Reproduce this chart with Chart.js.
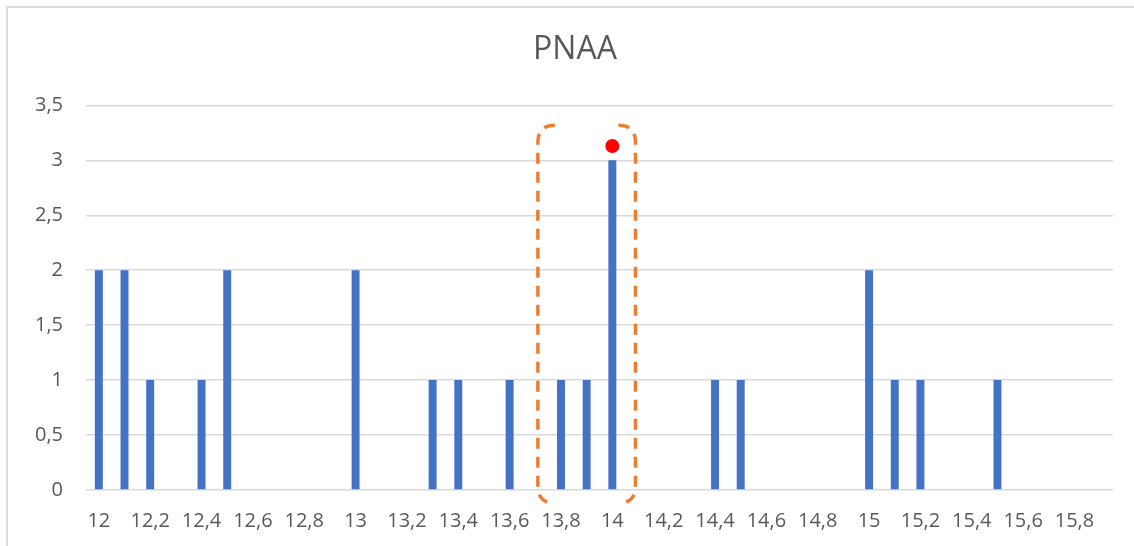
<!DOCTYPE html>
<html>
<head>
<meta charset="utf-8">
<script src="https://cdn.jsdelivr.net/npm/chart.js@4/dist/chart.umd.min.js"></script>
<style>
  html, body { margin: 0; padding: 0; background: #fff; }
  #wrap { position: relative; width: 1134px; height: 546px; overflow: hidden; }
  #frame { position: absolute; left: 6px; top: 6px; width: 1200px; height: 600px;
           border-left: 2px solid #dcdcdc; border-top: 2px solid #dcdcdc; }
  canvas { position: absolute; left: 0; top: 0; }
</style>
</head>
<body>
<div id="wrap">
  <div id="frame"></div>
  <canvas id="chart" width="1134" height="546"></canvas>
</div>
<script>
const categories = [
  "12", "12,1", "12,2", "12,3", "12,4", "12,5", "12,6", "12,7", "12,8", "12,9",
  "13", "13,1", "13,2", "13,3", "13,4", "13,5", "13,6", "13,7", "13,8", "13,9",
  "14", "14,1", "14,2", "14,3", "14,4", "14,5", "14,6", "14,7", "14,8", "14,9",
  "15", "15,1", "15,2", "15,3", "15,4", "15,5", "15,6", "15,7", "15,8", "15,9"
];
const counts = [
  2, 2, 1, 0, 1, 2, 0, 0, 0, 0,
  2, 0, 0, 1, 1, 0, 1, 0, 1, 1,
  3, 0, 0, 0, 1, 1, 0, 0, 0, 0,
  2, 1, 1, 0, 0, 1, 0, 0, 0, 0
];
const yTicks = [0, 0.5, 1, 1.5, 2, 2.5, 3, 3.5];

// highlight marker (red dot) and dashed bracket, in data units
const markerCategory = "14";
const markerValue = 3.13;
const bracketX = [17.1, 20.9];     // category index span
const bracketY = [-0.12, 3.32];    // value span

const markerData = categories.map(c => (c === markerCategory ? markerValue : null));

const bracketPlugin = {
  id: "bracket",
  afterDatasetsDraw(chart) {
    const { ctx, scales: { x, y } } = chart;
    const xl = x.getPixelForValue(bracketX[0]);
    const xr = x.getPixelForValue(bracketX[1]);
    const yt = y.getPixelForValue(bracketY[1]);
    const yb = y.getPixelForValue(bracketY[0]);
    const r = 17;
    ctx.save();
    ctx.strokeStyle = "#ED7D31";
    ctx.lineWidth = 3.5;
    ctx.setLineDash([11, 8]);
    ctx.beginPath();
    ctx.moveTo(xl + r, yt);
    ctx.quadraticCurveTo(xl, yt, xl, yt + r);
    ctx.lineTo(xl, yb - r);
    ctx.quadraticCurveTo(xl, yb, xl + r, yb);
    ctx.stroke();
    ctx.beginPath();
    ctx.moveTo(xr - r, yt);
    ctx.quadraticCurveTo(xr, yt, xr, yt + r);
    ctx.lineTo(xr, yb - r);
    ctx.quadraticCurveTo(xr, yb, xr - r, yb);
    ctx.stroke();
    ctx.restore();
  }
};

const fmt = v => String(v).replace(".", ",");
const font = "'Open Sans', 'Noto Sans', sans-serif";

new Chart(document.getElementById("chart"), {
  type: "bar",
  data: {
    labels: categories,
    datasets: [
      {
        label: "PNAA",
        data: counts,
        backgroundColor: "#4472C4",
        barPercentage: 1,
        categoryPercentage: 0.31,
        order: 2
      },
      {
        type: "line",
        label: "max",
        data: markerData,
        showLine: false,
        pointRadius: 7,
        pointBackgroundColor: "#FF0000",
        pointBorderWidth: 0,
        order: 1
      }
    ]
  },
  options: {
    responsive: false,
    animation: false,
    layout: { padding: { left: 16, right: 0, top: 0, bottom: 0 } },
    plugins: {
      legend: { display: false },
      tooltip: { enabled: false },
      title: {
        display: true,
        text: "PNAA",
        color: "#595959",
        font: { family: font, size: 32, weight: "normal", lineHeight: 1.2 },
        padding: { top: 31, bottom: 36 }
      }
    },
    scales: {
      x: {
        grid: { display: false, drawTicks: false },
        border: { display: false },
        afterFit: s => { s.height = 56; },
        ticks: {
          color: "#595959",
          font: { family: font, size: 20 },
          autoSkip: false,
          maxRotation: 0,
          padding: 19,
          callback: (v, i) => (i % 2 === 0 ? categories[i] : "")
        }
      },
      y: {
        min: yTicks[0],
        max: yTicks[yTicks.length - 1],
        afterBuildTicks: s => { s.ticks = yTicks.map(v => ({ value: v })); },
        afterFit: s => { s.width = 70; },
        grid: { color: "#d9d9d9", lineWidth: 1.5, drawTicks: false },
        border: { display: false },
        ticks: {
          color: "#595959",
          font: { family: font, size: 20 },
          padding: 23,
          callback: v => fmt(v)
        }
      },
      // empty right-hand spacer so the plot ends where the reference's does
      spacer: {
        position: "right",
        grid: { display: false, drawTicks: false },
        border: { display: false },
        ticks: { display: false },
        afterFit: s => { s.width = 21; }
      }
    }
  },
  plugins: [bracketPlugin]
});
</script>
</body>
</html>
